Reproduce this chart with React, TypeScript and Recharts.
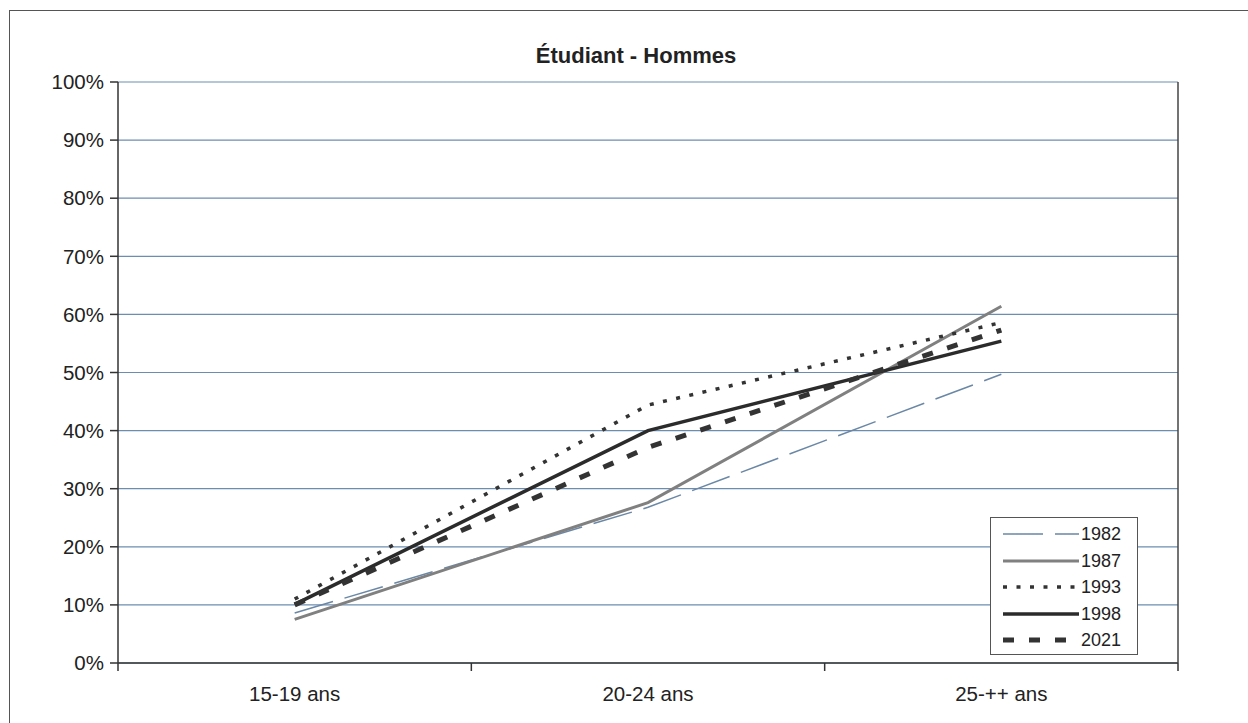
import { CartesianGrid, Line, LineChart, XAxis, YAxis } from 'recharts'

// categories + values (% of men who are students)
const ageGroups = ['15-19 ans', '20-24 ans', '25-++ ans']
const years = ['1982', '1987', '1993', '1998', '2021']
const v1982 = [8.6, 26.8, 49.7]
const v1987 = [7.5, 27.6, 61.4]
const v1993 = [11.0, 44.4, 58.6]
const v1998 = [10.1, 40.0, 55.4]
const v2021 = [10.0, 37.1, 57.3]
const yTicks = [0, 10, 20, 30, 40, 50, 60, 70, 80, 90, 100]

const values: Record<string, number[]> = {
  '1982': v1982,
  '1987': v1987,
  '1993': v1993,
  '1998': v1998,
  '2021': v2021,
}

const data = ageGroups.map((group, i) => {
  const row: Record<string, string | number> = { group }
  years.forEach((y) => {
    row[y] = values[y][i]
  })
  return row
})

// line looks, kept apart from the data
const lineStyle: Record<string, { stroke: string; width: number; dash?: string }> = {
  '1982': { stroke: '#6a87a6', width: 1.5, dash: '40 12' },
  '1987': { stroke: '#808080', width: 3 },
  '1993': { stroke: '#333333', width: 3.5, dash: '4 9.5' },
  '1998': { stroke: '#2b2b2b', width: 3.5 },
  '2021': { stroke: '#333333', width: 5, dash: '11 15' },
}

const W = 1248
const H = 723
const PLOT_LEFT = 118
const PLOT_RIGHT = 70
const PLOT_TOP = 82
const PLOT_BOTTOM = 60
const HALF_BAND = (W - PLOT_LEFT - PLOT_RIGHT) / ageGroups.length / 2
const FONT = '"Liberation Sans", Arial, sans-serif'

function AgeTick(props: any) {
  const { x, y, payload, index } = props
  const last = index === ageGroups.length - 1
  return (
    <g>
      <line x1={x - HALF_BAND} y1={y - 8} x2={x - HALF_BAND} y2={y} stroke="#333" strokeWidth={1.5} />
      {last && <line x1={x + HALF_BAND} y1={y - 8} x2={x + HALF_BAND} y2={y} stroke="#333" strokeWidth={1.5} />}
      <text x={x} y={y + 30} textAnchor="middle" fontSize={20.5} fill="#222" fontFamily={FONT}>
        {payload.value}
      </text>
    </g>
  )
}

function LegendBox() {
  return (
    <div
      style={{
        position: 'absolute',
        left: 990,
        top: 517,
        width: 148,
        height: 138,
        border: '1.5px solid #555',
        background: '#fff',
        boxSizing: 'border-box',
        padding: '3px 0 0 12px',
      }}
    >
      {years.map((y) => {
        const s = lineStyle[y]
        return (
          <div key={y} style={{ display: 'flex', alignItems: 'center', height: 26.5 }}>
            <svg width={78} height={12}>
              <line
                x1={0}
                y1={6}
                x2={76}
                y2={6}
                stroke={s.stroke}
                strokeWidth={s.width}
                strokeDasharray={s.dash}
              />
            </svg>
            <span style={{ fontSize: 18, color: '#222', fontFamily: FONT, lineHeight: '18px' }}>{y}</span>
          </div>
        )
      })}
    </div>
  )
}

export default function App() {
  return (
    <div
      style={{
        position: 'fixed',
        left: 0,
        top: 0,
        width: W,
        height: H,
        overflow: 'hidden',
        background: '#fff',
        fontFamily: FONT,
      }}
    >
      <div
        style={{
          position: 'absolute',
          left: 9,
          top: 10,
          width: W + 20,
          height: H + 20,
          borderTop: '1.5px solid #555',
          borderLeft: '1.5px solid #555',
        }}
      />
      <div
        style={{
          position: 'absolute',
          left: 12,
          top: 43,
          width: W,
          textAlign: 'center',
          fontSize: 22,
          fontWeight: 'bold',
          color: '#222',
        }}
      >
        Étudiant - Hommes
      </div>
      <div style={{ position: 'absolute', left: 0, top: 0 }}>
        <LineChart width={W} height={H} data={data} margin={{ top: PLOT_TOP, right: 0, bottom: 0, left: 0 }}>
          <CartesianGrid vertical={false} stroke="#6d8db0" strokeWidth={1.2} />
          <XAxis
            dataKey="group"
            height={PLOT_BOTTOM}
            padding={{ left: HALF_BAND, right: HALF_BAND }}
            axisLine={{ stroke: '#333', strokeWidth: 1.5 }}
            tickLine={false}
            tick={<AgeTick />}
            interval={0}
          />
          <YAxis
            width={PLOT_LEFT}
            domain={[0, 100]}
            ticks={yTicks}
            interval={0}
            tickFormatter={(v: number) => `${v}%`}
            axisLine={{ stroke: '#333', strokeWidth: 1.5 }}
            tickLine={{ stroke: '#333', strokeWidth: 1.5 }}
            tickSize={8}
            tickMargin={6}
            tick={{ fontSize: 20.5, fill: '#222', fontFamily: FONT }}
          />
          <YAxis
            yAxisId="frame"
            orientation="right"
            width={PLOT_RIGHT}
            domain={[0, 100]}
            tick={false}
            tickLine={false}
            axisLine={{ stroke: '#444', strokeWidth: 1.5 }}
          />
          {years.map((y) => (
            <Line
              key={y}
              dataKey={y}
              name={y}
              type="linear"
              stroke={lineStyle[y].stroke}
              strokeWidth={lineStyle[y].width}
              strokeDasharray={lineStyle[y].dash}
              dot={false}
              activeDot={false}
              isAnimationActive={false}
            />
          ))}
        </LineChart>
      </div>
      <LegendBox />
    </div>
  )
}
